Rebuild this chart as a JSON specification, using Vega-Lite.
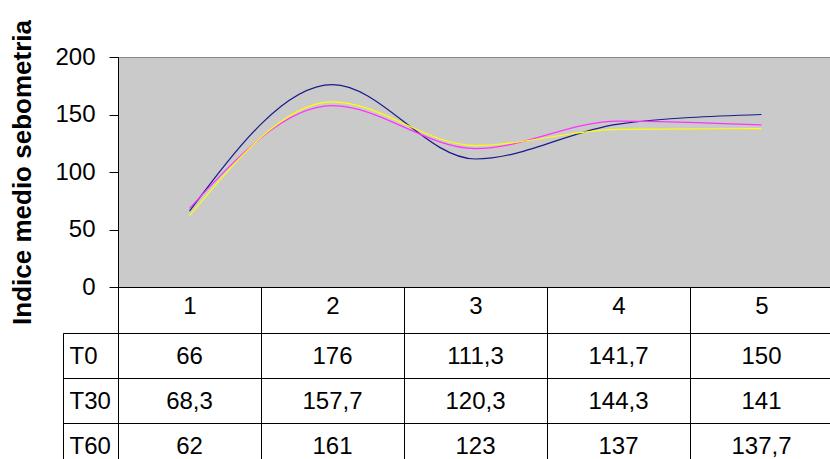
{
  "$schema": "https://vega.github.io/schema/vega-lite/v6.json",
  "padding": {"left": 9, "top": 19, "right": 0, "bottom": 0},
  "background": "white",
  "config": {
    "font": "Liberation Sans",
    "view": {"stroke": null},
    "locale": {"number": {"decimal": ",", "thousands": ".", "grouping": [3], "currency": ["", " €"]}}
  },
  "datasets": {
    "dati": [
      {"serie": "T0", "punto": "1", "valore": 66},
      {"serie": "T0", "punto": "2", "valore": 176},
      {"serie": "T0", "punto": "3", "valore": 111.3},
      {"serie": "T0", "punto": "4", "valore": 141.7},
      {"serie": "T0", "punto": "5", "valore": 150},
      {"serie": "T30", "punto": "1", "valore": 68.3},
      {"serie": "T30", "punto": "2", "valore": 157.7},
      {"serie": "T30", "punto": "3", "valore": 120.3},
      {"serie": "T30", "punto": "4", "valore": 144.3},
      {"serie": "T30", "punto": "5", "valore": 141},
      {"serie": "T60", "punto": "1", "valore": 62},
      {"serie": "T60", "punto": "2", "valore": 161},
      {"serie": "T60", "punto": "3", "valore": 123},
      {"serie": "T60", "punto": "4", "valore": 137},
      {"serie": "T60", "punto": "5", "valore": 137.7}
    ],
    "righe": [{"serie": "T0"}, {"serie": "T30"}, {"serie": "T60"}]
  },
  "bounds": "flush",
  "spacing": {"row": 46, "column": 0},
  "columns": 2,
  "concat": [
    {
      "width": 55,
      "height": 230,
      "data": {"values": []},
      "mark": {"type": "point", "opacity": 0},
      "encoding": {}
    },
    {
      "width": 715,
      "height": 230,
      "data": {"name": "dati"},
      "view": {"fill": "#cacaca", "stroke": "#888888"},
      "mark": {"type": "line", "interpolate": "monotone", "strokeWidth": 1.2},
      "encoding": {
        "x": {
          "field": "punto",
          "type": "ordinal",
          "scale": {"type": "band", "paddingInner": 0, "paddingOuter": 0},
          "axis": {
            "title": null,
            "labelAngle": 0,
            "domainColor": "black",
            "tickColor": "black",
            "tickBand": "extent",
            "tickSize": 46,
            "labelPadding": -27,
            "labelBaseline": "middle",
            "labelFontSize": 24,
            "labelColor": "black",
            "grid": false
          }
        },
        "y": {
          "field": "valore",
          "type": "quantitative",
          "scale": {"domain": [0, 200]},
          "axis": {
            "values": [0, 50, 100, 150, 200],
            "grid": false,
            "title": "Indice medio sebometria",
            "titleFontSize": 26,
            "titleFontWeight": "bold",
            "titleColor": "black",
            "titlePadding": 19,
            "tickSize": 9,
            "labelPadding": 14,
            "labelFontSize": 24,
            "labelColor": "black",
            "domainColor": "black",
            "tickColor": "black"
          }
        },
        "color": {
          "field": "serie",
          "type": "nominal",
          "scale": {"domain": ["T0", "T30", "T60"], "range": ["#1a1a8c", "#ff33ff", "#ffff00"]},
          "legend": null
        }
      }
    },
    {
      "width": 55,
      "height": 135,
      "data": {"name": "righe"},
      "view": {"stroke": "black", "fill": "white"},
      "mark": {"type": "text", "align": "left", "baseline": "middle", "fontSize": 24, "dx": -21, "dy": 1, "color": "black"},
      "encoding": {
        "y": {
          "field": "serie",
          "type": "nominal",
          "sort": ["T0", "T30", "T60"],
          "scale": {"type": "band", "paddingInner": 0, "paddingOuter": 0},
          "axis": {"title": null, "labels": false, "ticks": false, "domain": false, "grid": true, "tickBand": "extent", "gridColor": "black", "gridOpacity": 1}
        },
        "text": {"field": "serie", "type": "nominal"}
      }
    },
    {
      "width": 715,
      "height": 135,
      "data": {"name": "dati"},
      "view": {"stroke": "black", "fill": "white"},
      "mark": {"type": "text", "baseline": "middle", "fontSize": 24, "dy": 1, "color": "black"},
      "encoding": {
        "x": {
          "field": "punto",
          "type": "ordinal",
          "scale": {"type": "band", "paddingInner": 0, "paddingOuter": 0},
          "axis": {"orient": "top", "title": null, "labels": false, "ticks": false, "domain": false, "grid": true, "tickBand": "extent", "gridColor": "black", "gridOpacity": 1}
        },
        "y": {
          "field": "serie",
          "type": "nominal",
          "sort": ["T0", "T30", "T60"],
          "scale": {"type": "band", "paddingInner": 0, "paddingOuter": 0},
          "axis": {"title": null, "labels": false, "ticks": false, "domain": false, "grid": true, "tickBand": "extent", "gridColor": "black", "gridOpacity": 1}
        },
        "text": {"field": "valore", "type": "quantitative", "format": ".1~f"}
      }
    }
  ]
}
